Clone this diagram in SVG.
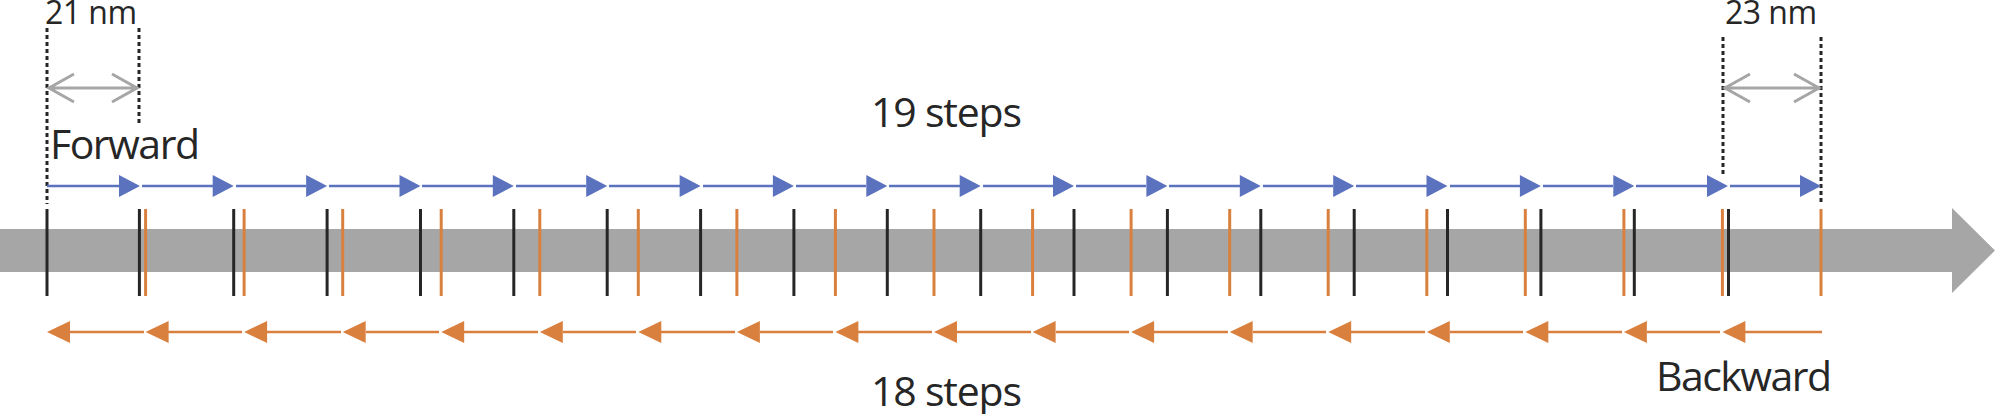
<svg xmlns="http://www.w3.org/2000/svg" xmlns:xlink="http://www.w3.org/1999/xlink" width="2000" height="414" viewBox="0 0 2000 414">
<style>
.lbl{font-family:"Open Sans","Noto Sans","Liberation Sans",sans-serif;font-size:41px;fill:#262626}
.nm{font-family:"Open Sans","Noto Sans","Liberation Sans",sans-serif;font-size:32px;fill:#262626}
.fl{stroke:#5B72BE;stroke-width:2.5;fill:none}
.fh{fill:#5B72BE}
.bl{stroke:#D9803F;stroke-width:2.5;fill:none}
.bh{fill:#D9803F}
.tk{stroke:#262626;stroke-width:3}
.to{stroke:#D9803F;stroke-width:3}
.dot{stroke:#262626;stroke-width:3;stroke-dasharray:4 3;fill:none}
.dim{stroke:#A6A6A6;stroke-width:3;fill:none}
</style>
<defs>
<path id="fhead" class="fh" d="M-21,-11 L0,0 L-21,11 Z"/>
<path id="bhead" class="bh" d="M23,-11 L0,0 L23,11 Z"/>
</defs>
<g id="band">
<polygon fill="#A6A6A6" points="0,229 1952,229 1952,208 1995,250.5 1952,293 1952,272 0,272"/>
</g>
<g id="forward-ticks">
<line class="tk" x1="47" y1="209" x2="47" y2="296"/>
<line class="tk" x1="139.4" y1="209" x2="139.4" y2="296"/>
<line class="tk" x1="233.7" y1="209" x2="233.7" y2="296"/>
<line class="tk" x1="327.1" y1="209" x2="327.1" y2="296"/>
<line class="tk" x1="420.5" y1="209" x2="420.5" y2="296"/>
<line class="tk" x1="513.8" y1="209" x2="513.8" y2="296"/>
<line class="tk" x1="607.2" y1="209" x2="607.2" y2="296"/>
<line class="tk" x1="700.6" y1="209" x2="700.6" y2="296"/>
<line class="tk" x1="793.9" y1="209" x2="793.9" y2="296"/>
<line class="tk" x1="887.3" y1="209" x2="887.3" y2="296"/>
<line class="tk" x1="980.7" y1="209" x2="980.7" y2="296"/>
<line class="tk" x1="1074" y1="209" x2="1074" y2="296"/>
<line class="tk" x1="1167.4" y1="209" x2="1167.4" y2="296"/>
<line class="tk" x1="1260.8" y1="209" x2="1260.8" y2="296"/>
<line class="tk" x1="1354.2" y1="209" x2="1354.2" y2="296"/>
<line class="tk" x1="1447.5" y1="209" x2="1447.5" y2="296"/>
<line class="tk" x1="1540.9" y1="209" x2="1540.9" y2="296"/>
<line class="tk" x1="1634.3" y1="209" x2="1634.3" y2="296"/>
<line class="tk" x1="1728.5" y1="209" x2="1728.5" y2="296"/>
</g>
<g id="backward-ticks">
<line class="to" x1="1821" y1="209" x2="1821" y2="296"/>
<line class="to" x1="1722.4" y1="209" x2="1722.4" y2="296"/>
<line class="to" x1="1623.9" y1="209" x2="1623.9" y2="296"/>
<line class="to" x1="1525.3" y1="209" x2="1525.3" y2="296"/>
<line class="to" x1="1426.8" y1="209" x2="1426.8" y2="296"/>
<line class="to" x1="1328.2" y1="209" x2="1328.2" y2="296"/>
<line class="to" x1="1229.7" y1="209" x2="1229.7" y2="296"/>
<line class="to" x1="1131.1" y1="209" x2="1131.1" y2="296"/>
<line class="to" x1="1032.6" y1="209" x2="1032.6" y2="296"/>
<line class="to" x1="934" y1="209" x2="934" y2="296"/>
<line class="to" x1="835.4" y1="209" x2="835.4" y2="296"/>
<line class="to" x1="736.9" y1="209" x2="736.9" y2="296"/>
<line class="to" x1="638.3" y1="209" x2="638.3" y2="296"/>
<line class="to" x1="539.8" y1="209" x2="539.8" y2="296"/>
<line class="to" x1="441.2" y1="209" x2="441.2" y2="296"/>
<line class="to" x1="342.7" y1="209" x2="342.7" y2="296"/>
<line class="to" x1="244.1" y1="209" x2="244.1" y2="296"/>
<line class="to" x1="145.6" y1="209" x2="145.6" y2="296"/>
</g>
<g id="dimension-21nm">
<line class="dot" x1="47" y1="28" x2="47" y2="204"/>
<line class="dot" x1="139" y1="28" x2="139" y2="125"/>
<path class="dim" d="M49,88 L137,88 M74,74 L49,88 L74,102 M112,74 L137,88 L112,102"/>
<text class="nm" x="45" y="24" textLength="92">21 nm</text>
</g>
<g id="dimension-23nm">
<line class="dot" x1="1723" y1="37" x2="1723" y2="177"/>
<line class="dot" x1="1821" y1="37" x2="1821" y2="204"/>
<path class="dim" d="M1725,88 L1819,88 M1750,74 L1725,88 L1750,102 M1794,74 L1819,88 L1794,102"/>
<text class="nm" x="1725" y="24" textLength="92">23 nm</text>
</g>
<g id="labels">
<text class="lbl" x="50" y="159" textLength="150">Forward</text>
<text class="lbl" x="871" y="127" textLength="151">19 steps</text>
<text class="lbl" x="871" y="406" textLength="151">18 steps</text>
<text class="lbl" x="1656" y="391" textLength="176">Backward</text>
</g>
<g id="connectors">
<g id="forward-arrows">
<line class="fl" x1="47" y1="186" x2="119" y2="186"/><use xlink:href="#fhead" x="140" y="186"/>
<line class="fl" x1="142" y1="186" x2="213" y2="186"/><use xlink:href="#fhead" x="233.7" y="186"/>
<line class="fl" x1="236" y1="186" x2="306" y2="186"/><use xlink:href="#fhead" x="327.1" y="186"/>
<line class="fl" x1="329" y1="186" x2="400" y2="186"/><use xlink:href="#fhead" x="420.5" y="186"/>
<line class="fl" x1="422" y1="186" x2="493" y2="186"/><use xlink:href="#fhead" x="513.8" y="186"/>
<line class="fl" x1="516" y1="186" x2="586" y2="186"/><use xlink:href="#fhead" x="607.2" y="186"/>
<line class="fl" x1="609" y1="186" x2="680" y2="186"/><use xlink:href="#fhead" x="700.6" y="186"/>
<line class="fl" x1="703" y1="186" x2="773" y2="186"/><use xlink:href="#fhead" x="793.9" y="186"/>
<line class="fl" x1="796" y1="186" x2="866" y2="186"/><use xlink:href="#fhead" x="887.3" y="186"/>
<line class="fl" x1="889" y1="186" x2="960" y2="186"/><use xlink:href="#fhead" x="980.7" y="186"/>
<line class="fl" x1="983" y1="186" x2="1053" y2="186"/><use xlink:href="#fhead" x="1074" y="186"/>
<line class="fl" x1="1076" y1="186" x2="1146" y2="186"/><use xlink:href="#fhead" x="1167.4" y="186"/>
<line class="fl" x1="1169" y1="186" x2="1240" y2="186"/><use xlink:href="#fhead" x="1260.8" y="186"/>
<line class="fl" x1="1263" y1="186" x2="1333" y2="186"/><use xlink:href="#fhead" x="1354.2" y="186"/>
<line class="fl" x1="1356" y1="186" x2="1427" y2="186"/><use xlink:href="#fhead" x="1447.5" y="186"/>
<line class="fl" x1="1450" y1="186" x2="1520" y2="186"/><use xlink:href="#fhead" x="1540.9" y="186"/>
<line class="fl" x1="1543" y1="186" x2="1613" y2="186"/><use xlink:href="#fhead" x="1634.3" y="186"/>
<line class="fl" x1="1636" y1="186" x2="1707" y2="186"/><use xlink:href="#fhead" x="1728" y="186"/>
<line class="fl" x1="1730" y1="186" x2="1800" y2="186"/><use xlink:href="#fhead" x="1821" y="186"/>
</g>
<g id="backward-arrows">
<line class="bl" x1="1822" y1="332" x2="1745" y2="332"/><use xlink:href="#bhead" x="1722.4" y="332"/>
<line class="bl" x1="1720" y1="332" x2="1647" y2="332"/><use xlink:href="#bhead" x="1623.9" y="332"/>
<line class="bl" x1="1622" y1="332" x2="1548" y2="332"/><use xlink:href="#bhead" x="1525.3" y="332"/>
<line class="bl" x1="1523" y1="332" x2="1450" y2="332"/><use xlink:href="#bhead" x="1426.8" y="332"/>
<line class="bl" x1="1425" y1="332" x2="1351" y2="332"/><use xlink:href="#bhead" x="1328.2" y="332"/>
<line class="bl" x1="1326" y1="332" x2="1253" y2="332"/><use xlink:href="#bhead" x="1229.7" y="332"/>
<line class="bl" x1="1228" y1="332" x2="1154" y2="332"/><use xlink:href="#bhead" x="1131.1" y="332"/>
<line class="bl" x1="1129" y1="332" x2="1056" y2="332"/><use xlink:href="#bhead" x="1032.6" y="332"/>
<line class="bl" x1="1031" y1="332" x2="957" y2="332"/><use xlink:href="#bhead" x="934" y="332"/>
<line class="bl" x1="932" y1="332" x2="858" y2="332"/><use xlink:href="#bhead" x="835.4" y="332"/>
<line class="bl" x1="833" y1="332" x2="760" y2="332"/><use xlink:href="#bhead" x="736.9" y="332"/>
<line class="bl" x1="735" y1="332" x2="661" y2="332"/><use xlink:href="#bhead" x="638.3" y="332"/>
<line class="bl" x1="636" y1="332" x2="563" y2="332"/><use xlink:href="#bhead" x="539.8" y="332"/>
<line class="bl" x1="538" y1="332" x2="464" y2="332"/><use xlink:href="#bhead" x="441.2" y="332"/>
<line class="bl" x1="439" y1="332" x2="366" y2="332"/><use xlink:href="#bhead" x="342.7" y="332"/>
<line class="bl" x1="341" y1="332" x2="267" y2="332"/><use xlink:href="#bhead" x="244.1" y="332"/>
<line class="bl" x1="242" y1="332" x2="168" y2="332"/><use xlink:href="#bhead" x="145.6" y="332"/>
<line class="bl" x1="144" y1="332" x2="70" y2="332"/><use xlink:href="#bhead" x="47" y="332"/>
</g>
</g>
</svg>
